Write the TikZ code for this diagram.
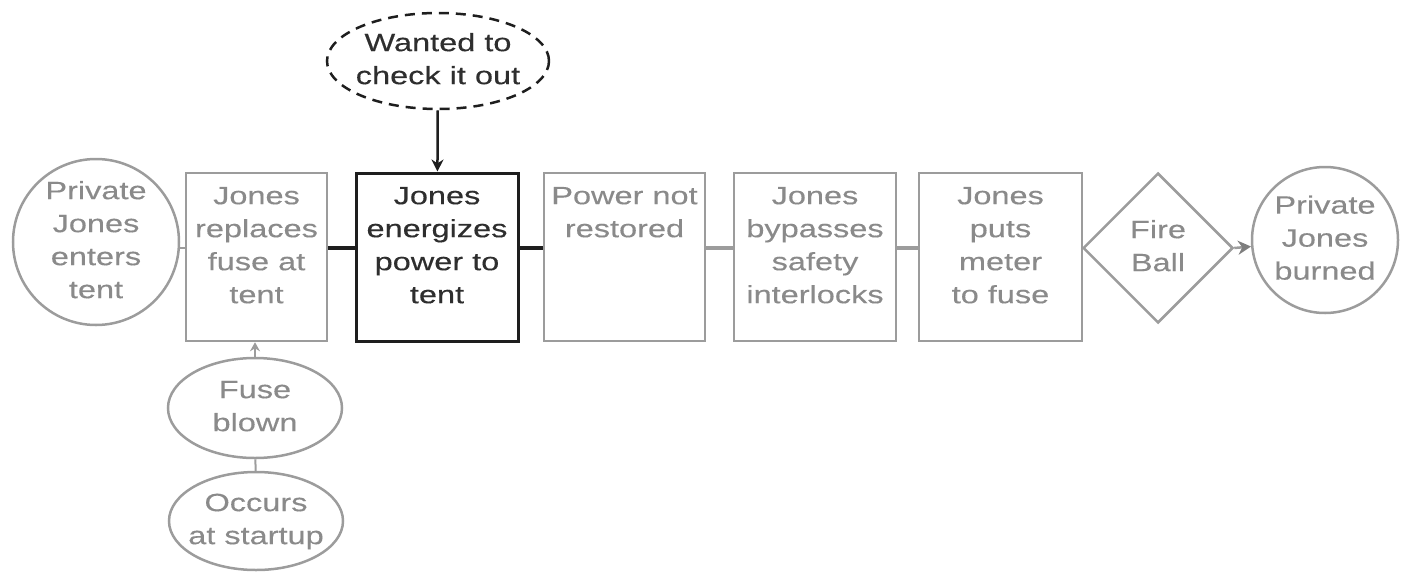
\documentclass[tikz,border=0pt]{standalone}
\usepackage{fontspec}
\setmainfont{Liberation Sans}[FakeStretch=1.3,FakeBold=0.3]
\usetikzlibrary{shapes.geometric,arrows.meta}

\definecolor{gtext}{HTML}{8A8A8A}
\definecolor{gline}{HTML}{9C9C9C}
\definecolor{ghead}{HTML}{7E7E7E}
\definecolor{dtext}{HTML}{2E2E2E}
\definecolor{dline}{HTML}{1E1E1E}

% top-aligned text block filling a box of fixed height
\newcommand\topstack[2]{\parbox[c][168pt][t]{#1}{\centering\vspace*{14pt}#2}}
% zero-size centred stack, so the outline keeps its own size
\newcommand\zstack[1]{\makebox[0pt]{\smash{\raisebox{-0.25em}{\begin{tabular}{@{}c@{}}#1\end{tabular}}}}}

\begin{document}
\begin{tikzpicture}[x=1pt,y=-1pt,
  every node/.style={font=\fontsize{25}{33}\selectfont},
  gbox/.style={rectangle,draw=gline,line width=2.5pt,text=gtext,inner sep=0pt},
  dbox/.style={rectangle,draw=dline,line width=3pt,text=dtext,inner sep=0pt},
  gcirc/.style={circle,draw=gline,line width=2.5pt,text=gtext,inner sep=0pt},
  gell/.style={ellipse,draw=gline,line width=2.5pt,text=gtext,inner sep=0pt},
  dell/.style={ellipse,draw=dline,line width=2.5pt,text=dtext,inner sep=0pt,
               dash pattern=on 10pt off 7pt},
  gdia/.style={diamond,draw=gline,line width=2.5pt,text=gtext,inner sep=0pt},
  glink/.style={draw=gline,line width=4pt},
  dlink/.style={draw=dline,line width=4pt},
  garrow/.style={draw=gline,line width=2.5pt,-{Stealth[length=9pt,width=10pt]}},
  darrow/.style={draw=dline,line width=2.5pt,-{Stealth[length=12pt,width=12pt]}}]

\useasboundingbox (0,0) rectangle (1401,571);

% main chain
\node[gcirc,minimum size=166pt] (c1) at (96,242) {\zstack{Private\\Jones\\enters\\tent}};
\node[gbox] (b2) at (256.5,257) {\topstack{141pt}{Jones\\replaces\\fuse at\\tent}};
\node[dbox] (b3) at (437,257) {\topstack{162pt}{Jones\\energizes\\power to\\tent}};
\node[gbox] (b4) at (624.5,257) {\topstack{161pt}{Power not\\restored}};
\node[gbox] (b5) at (815,257) {\topstack{162pt}{Jones\\bypasses\\safety\\interlocks}};
\node[gbox] (b6) at (1000.5,257) {\topstack{163pt}{Jones\\puts\\meter\\to fuse}};
\node[gdia,minimum width=150pt,minimum height=150pt] (dm) at (1158,248) {\zstack{Fire\\Ball}};
\node[gcirc,minimum size=146pt] (c2) at (1325,240) {\zstack{Private\\Jones\\burned}};

% cause above
\node[dell,minimum width=222pt,minimum height=96pt] (wt) at (438,61) {\zstack{Wanted to\\check it out}};

% conditions below
\node[gell,minimum width=174pt,minimum height=100pt] (fb) at (255,408) {\zstack{Fuse\\blown}};
\node[gell,minimum width=174pt,minimum height=98pt] (oc) at (256,521) {\zstack{Occurs\\at startup}};

% connectors
\draw[draw=gline,line width=2pt] (c1.east |- dm) -- (b2.west |- dm);
\draw[dlink] (b2.east |- dm) -- (b3.west |- dm);
\draw[dlink] (b3.east |- dm) -- (b4.west |- dm);
\draw[glink] (b4.east |- dm) -- (b5.west |- dm);
\draw[glink] (b5.east |- dm) -- (b6.west |- dm);
\draw[draw=gline,line width=2.5pt,-{Stealth[length=13pt,width=14pt,color=ghead]}] (dm.east) -- (c2);
\draw[darrow] (wt) -- (b3);
\draw[garrow,line width=2pt] (fb.north) -- (fb.north |- b2.south);
\draw[draw=gline,line width=2pt] (oc) -- (fb);
\end{tikzpicture}
\end{document}
